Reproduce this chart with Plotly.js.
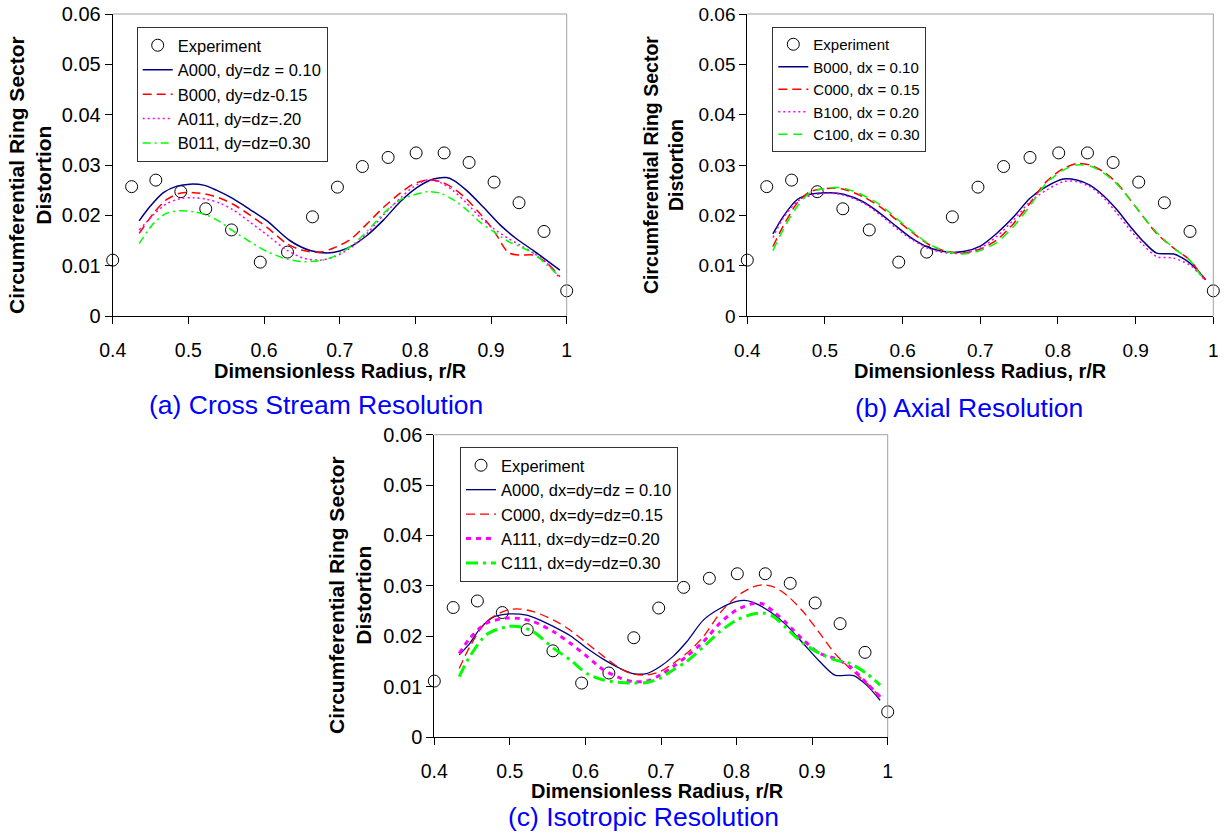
<!DOCTYPE html>
<html>
<head>
<meta charset="utf-8">
<script src="https://cdn.plot.ly/plotly-3.0.1.min.js"></script>
<style>
  html, body { margin: 0; padding: 0; background: #fff; }
  #chart { width: 1225px; height: 833px; }
</style>
</head>
<body>
<div id="chart"></div>
<script>
// Measured ring sector distortion (same data in every panel)
const expR = [0.400, 0.425, 0.457, 0.490, 0.523, 0.557, 0.595, 0.631, 0.664, 0.697, 0.730, 0.764, 0.801, 0.838, 0.871, 0.904, 0.937, 0.970, 1.000];
const expD = [0.0111, 0.0257, 0.0270, 0.0247, 0.0213, 0.0171, 0.0107, 0.0127, 0.0197, 0.0256, 0.0297, 0.0315, 0.0324, 0.0324, 0.0305, 0.0266, 0.0225, 0.0168, 0.0050];

// (a) Cross stream resolution
const aR_A000 = [0.435, 0.449, 0.467, 0.485, 0.502, 0.520, 0.537, 0.559, 0.581, 0.604, 0.634, 0.661, 0.683, 0.700, 0.718, 0.736, 0.758, 0.780, 0.802, 0.824, 0.841, 0.850, 0.868, 0.890, 0.912, 0.934, 0.956, 0.974, 0.991];
const aD_A000 = [0.0189, 0.0217, 0.0245, 0.0258, 0.0262, 0.0260, 0.0250, 0.0233, 0.0212, 0.0189, 0.0150, 0.0130, 0.0125, 0.0129, 0.0141, 0.0160, 0.0191, 0.0227, 0.0255, 0.0272, 0.0275, 0.0270, 0.0249, 0.0216, 0.0181, 0.0153, 0.0130, 0.0110, 0.0091];
const aR = [0.435, 0.454, 0.471, 0.489, 0.507, 0.524, 0.542, 0.559, 0.581, 0.604, 0.630, 0.652, 0.674, 0.692, 0.714, 0.736, 0.758, 0.780, 0.797, 0.815, 0.833, 0.850, 0.868, 0.885, 0.903, 0.923, 0.938, 0.956, 0.974, 0.991];
const aD_B000 = [0.0164, 0.0204, 0.0231, 0.0244, 0.0245, 0.0242, 0.0234, 0.0222, 0.0201, 0.0176, 0.0144, 0.0130, 0.0127, 0.0135, 0.0152, 0.0183, 0.0216, 0.0244, 0.0262, 0.0270, 0.0267, 0.0254, 0.0232, 0.0204, 0.0171, 0.0126, 0.0121, 0.0121, 0.0105, 0.0078];
const aD_A011 = [0.0171, 0.0201, 0.0223, 0.0233, 0.0235, 0.0232, 0.0224, 0.0211, 0.0187, 0.0161, 0.0131, 0.0115, 0.0111, 0.0117, 0.0135, 0.0164, 0.0201, 0.0234, 0.0256, 0.0270, 0.0265, 0.0249, 0.0224, 0.0197, 0.0174, 0.0154, 0.0141, 0.0125, 0.0105, 0.0075];
const aD_B011 = [0.0144, 0.0184, 0.0204, 0.0209, 0.0207, 0.0201, 0.0187, 0.0169, 0.0148, 0.0128, 0.0113, 0.0108, 0.0110, 0.0118, 0.0138, 0.0168, 0.0204, 0.0231, 0.0240, 0.0247, 0.0244, 0.0231, 0.0211, 0.0187, 0.0168, 0.0148, 0.0138, 0.0125, 0.0101, 0.0078];

// (b) Axial resolution
const bR = [0.433, 0.446, 0.464, 0.481, 0.507, 0.524, 0.549, 0.571, 0.592, 0.614, 0.635, 0.657, 0.678, 0.700, 0.721, 0.743, 0.764, 0.785, 0.807, 0.824, 0.841, 0.858, 0.876, 0.893, 0.910, 0.927, 0.949, 0.970, 0.983, 0.990];
const bD_B000 = [0.0163, 0.0197, 0.0231, 0.0242, 0.0245, 0.0242, 0.0227, 0.0204, 0.0178, 0.0152, 0.0135, 0.0127, 0.0128, 0.0139, 0.0164, 0.0197, 0.0234, 0.0257, 0.0272, 0.0270, 0.0260, 0.0240, 0.0211, 0.0178, 0.0148, 0.0125, 0.0123, 0.0105, 0.0085, 0.0072];
const bD_C000 = [0.0138, 0.0178, 0.0224, 0.0247, 0.0254, 0.0252, 0.0237, 0.0217, 0.0191, 0.0164, 0.0141, 0.0128, 0.0125, 0.0133, 0.0151, 0.0184, 0.0224, 0.0267, 0.0293, 0.0303, 0.0300, 0.0287, 0.0264, 0.0231, 0.0197, 0.0164, 0.0135, 0.0111, 0.0085, 0.0072];
const bD_B100 = [0.0156, 0.0194, 0.0227, 0.0239, 0.0244, 0.0240, 0.0225, 0.0201, 0.0174, 0.0150, 0.0133, 0.0125, 0.0125, 0.0135, 0.0158, 0.0191, 0.0227, 0.0250, 0.0267, 0.0267, 0.0257, 0.0236, 0.0204, 0.0171, 0.0141, 0.0118, 0.0115, 0.0101, 0.0082, 0.0070];
const bD_C100 = [0.0130, 0.0171, 0.0217, 0.0245, 0.0255, 0.0254, 0.0240, 0.0221, 0.0194, 0.0166, 0.0142, 0.0128, 0.0123, 0.0130, 0.0146, 0.0178, 0.0219, 0.0264, 0.0290, 0.0300, 0.0298, 0.0285, 0.0262, 0.0231, 0.0197, 0.0166, 0.0135, 0.0110, 0.0083, 0.0071];

// (c) Isotropic resolution
const cR_A000 = [0.433, 0.447, 0.461, 0.478, 0.496, 0.522, 0.540, 0.558, 0.580, 0.602, 0.624, 0.646, 0.663, 0.681, 0.699, 0.716, 0.734, 0.756, 0.778, 0.800, 0.811, 0.822, 0.844, 0.866, 0.888, 0.910, 0.930, 0.955, 0.972, 0.990];
const cD_A000 = [0.0163, 0.0186, 0.0216, 0.0238, 0.0244, 0.0242, 0.0232, 0.0219, 0.0201, 0.0176, 0.0154, 0.0136, 0.0126, 0.0126, 0.0140, 0.0160, 0.0189, 0.0232, 0.0255, 0.0269, 0.0271, 0.0267, 0.0249, 0.0222, 0.0186, 0.0150, 0.0123, 0.0122, 0.0103, 0.0073];
const cR = [0.433, 0.447, 0.469, 0.496, 0.513, 0.531, 0.558, 0.580, 0.602, 0.624, 0.646, 0.663, 0.681, 0.699, 0.716, 0.734, 0.756, 0.778, 0.800, 0.822, 0.835, 0.849, 0.866, 0.888, 0.910, 0.930, 0.950, 0.972, 0.990];
const cD_C000 = [0.0136, 0.0179, 0.0229, 0.0252, 0.0254, 0.0249, 0.0232, 0.0212, 0.0186, 0.0160, 0.0136, 0.0125, 0.0123, 0.0130, 0.0146, 0.0166, 0.0199, 0.0246, 0.0279, 0.0298, 0.0302, 0.0298, 0.0282, 0.0249, 0.0206, 0.0166, 0.0136, 0.0107, 0.0080];
const cD_A111 = [0.0166, 0.0196, 0.0226, 0.0236, 0.0235, 0.0229, 0.0209, 0.0186, 0.0160, 0.0133, 0.0117, 0.0110, 0.0111, 0.0123, 0.0140, 0.0160, 0.0189, 0.0226, 0.0252, 0.0265, 0.0264, 0.0249, 0.0226, 0.0193, 0.0166, 0.0156, 0.0140, 0.0107, 0.0080];
const cD_C111 = [0.0120, 0.0160, 0.0203, 0.0219, 0.0219, 0.0209, 0.0176, 0.0153, 0.0126, 0.0113, 0.0108, 0.0107, 0.0108, 0.0117, 0.0133, 0.0150, 0.0179, 0.0209, 0.0232, 0.0244, 0.0246, 0.0239, 0.0216, 0.0186, 0.0166, 0.0153, 0.0146, 0.0126, 0.0103];

const xTicks = [0.4, 0.5, 0.6, 0.7, 0.8, 0.9, 1.0];
const yTicks = [0, 0.01, 0.02, 0.03, 0.04, 0.05, 0.06];

const W = 1225, H = 833;
const FONT = 'Liberation Sans, Arial, Helvetica, sans-serif';
const px = v => v / W;
const py = v => 1 - v / H;

const NAVY = '#000080', RED = '#FF0000', MAGENTA = '#FF00FF', GREEN = '#00FF00';

function expTrace(ax, legend) {
  return {
    x: expR, y: expD, xaxis: 'x' + ax, yaxis: 'y' + ax, legend: legend,
    name: 'Experiment', mode: 'markers', type: 'scatter', cliponaxis: false,
    marker: { symbol: 'circle-open', size: 12, color: '#000', line: { width: 1, color: '#000' } }
  };
}
function lineTrace(x, y, ax, legend, name, color, dash, width) {
  return {
    x: x, y: y, xaxis: 'x' + ax, yaxis: 'y' + ax, legend: legend,
    name: name, mode: 'lines', type: 'scatter', cliponaxis: false,
    line: { color: color, dash: dash, width: width, shape: 'spline', smoothing: 0.8 }
  };
}

const traces = [
  expTrace('', 'legend'),
  lineTrace(aR_A000, aD_A000, '', 'legend', 'A000, dy=dz = 0.10', NAVY, 'solid', 1.5),
  lineTrace(aR, aD_B000, '', 'legend', 'B000, dy=dz-0.15', RED, '9px,5px', 1.5),
  lineTrace(aR, aD_A011, '', 'legend', 'A011, dy=dz=.20', MAGENTA, '2px,3px', 1.5),
  lineTrace(aR, aD_B011, '', 'legend', 'B011, dy=dz=0.30', GREEN, '8px,4px,2px,4px', 1.5),

  expTrace('2', 'legend2'),
  lineTrace(bR, bD_B000, '2', 'legend2', 'B000, dx = 0.10', NAVY, 'solid', 1.5),
  lineTrace(bR, bD_C000, '2', 'legend2', 'C000, dx = 0.15', RED, '9px,5px', 1.5),
  lineTrace(bR, bD_B100, '2', 'legend2', 'B100, dx = 0.20', MAGENTA, '2px,3px', 1.5),
  lineTrace(bR, bD_C100, '2', 'legend2', 'C100, dx = 0.30', GREEN, '9px,6px', 1.5),

  expTrace('3', 'legend3'),
  lineTrace(cR_A000, cD_A000, '3', 'legend3', 'A000, dx=dy=dz = 0.10', NAVY, 'solid', 1.3),
  lineTrace(cR, cD_C000, '3', 'legend3', 'C000, dx=dy=dz=0.15', RED, '9px,5px', 1.3),
  lineTrace(cR, cD_A111, '3', 'legend3', 'A111, dx=dy=dz=0.20', MAGENTA, '5px,5px', 3),
  lineTrace(cR, cD_C111, '3', 'legend3', 'C111, dx=dy=dz=0.30', GREEN, '12px,5px,3px,5px', 3)
];

function xAxis(domain, anchor, size) {
  return {
    domain: domain, anchor: anchor, range: [0.4, 1.0], tickvals: xTicks,
    showline: true, linecolor: '#000', linewidth: 1, ticks: 'outside', ticklen: 7, tickcolor: '#000',
    showgrid: false, zeroline: false, tickfont: { family: FONT, size: size, color: '#000' },
    ticklabelstandoff: 10
  };
}
function yAxis(domain, anchor, size) {
  return {
    domain: domain, anchor: anchor, range: [0, 0.06], tickvals: yTicks,
    showline: true, linecolor: '#000', linewidth: 1, ticks: 'outside', ticklen: 7, tickcolor: '#000',
    showgrid: false, zeroline: false, tickfont: { family: FONT, size: size, color: '#000' },
    ticklabelstandoff: 0
  };
}
function legendBox(x, y, size) {
  return {
    x: x, y: y, xanchor: 'left', yanchor: 'top', xref: 'paper', yref: 'paper',
    bgcolor: '#fff', bordercolor: '#333', borderwidth: 1,
    font: { family: FONT, size: size, color: '#000' }, itemwidth: 30, tracegroupgap: 0
  };
}
function frame(ax) {
  // light grey top and right edges of each plot area
  const xr = 'x' + ax + ' domain', yr = 'y' + ax + ' domain';
  return [
    { type: 'line', xref: xr, yref: yr, x0: 0, x1: 1, y0: 1, y1: 1, line: { color: '#a0a0a0', width: 1 } },
    { type: 'line', xref: xr, yref: yr, x0: 1, x1: 1, y0: 0, y1: 1, line: { color: '#a0a0a0', width: 1 } }
  ];
}
function note(text, x, y, size, opts) {
  return Object.assign({
    text: text, xref: 'paper', yref: 'paper', x: px(x), y: py(y),
    xanchor: 'center', yanchor: 'middle', showarrow: false,
    font: { family: FONT, size: size, color: '#000' }
  }, opts || {});
}
function caption(text, x, y) {
  return note(text, x, y, 26.5, { font: { family: FONT, size: 26.5, color: '#0000FF' } });
}

const yTitle = '<b>Circumferential Ring Sector<br>Distortion</b>';
const xTitle = '<b>Dimensionless Radius, r/R</b>';

const layout = {
  width: W, height: H, margin: { l: 0, r: 0, t: 0, b: 0 },
  paper_bgcolor: '#fff', plot_bgcolor: '#fff', showlegend: true,
  xaxis: xAxis([px(112.7), px(566.7)], 'y', 19.5),
  yaxis: yAxis([py(316), py(14)], 'x', 20),
  xaxis2: xAxis([px(747.3), px(1213.3)], 'y2', 19),
  yaxis2: yAxis([py(316), py(14)], 'x2', 19),
  xaxis3: xAxis([px(434.3), px(887.7)], 'y3', 19.5),
  yaxis3: yAxis([py(737), py(434.7)], 'x3', 20),
  legend: legendBox(px(136.7), py(27), 16.5),
  legend2: legendBox(px(772.3), py(27), 15),
  legend3: legendBox(px(460), py(447), 16.5),
  shapes: [].concat(frame(''), frame('2'), frame('3')),
  annotations: [
    note(yTitle, 30, 175, 21, { textangle: -90 }),
    note(yTitle, 664, 165, 19.5, { textangle: -90 }),
    note(yTitle, 350, 595, 21, { textangle: -90 }),
    note(xTitle, 340, 371, 20),
    note(xTitle, 980, 371, 20),
    note(xTitle, 657, 791, 20),
    caption('(a) Cross Stream Resolution', 316, 405),
    caption('(b) Axial Resolution', 969, 408),
    caption('(c) Isotropic Resolution', 643, 817)
  ]
};

Plotly.newPlot('chart', traces, layout, { staticPlot: true, displayModeBar: false });
</script>
</body>
</html>
